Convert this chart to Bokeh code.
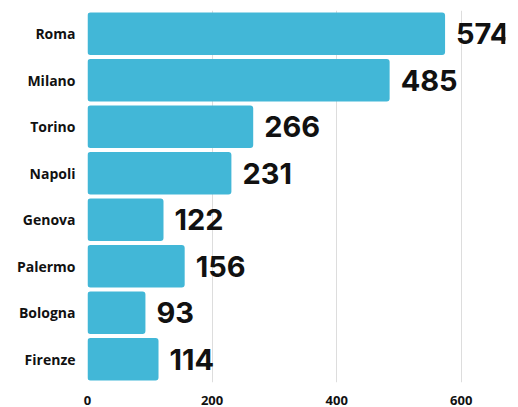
from bokeh.plotting import figure
from bokeh.models import ColumnDataSource, FixedTicker, Range1d, FactorRange
from bokeh.core.properties import value
from bokeh.embed import file_html
from bokeh.resources import INLINE

cities = ["Roma", "Milano", "Torino", "Napoli", "Genova", "Palermo", "Bologna", "Firenze"]
counts = [574, 485, 266, 231, 122, 156, 93, 114]
ticks = [0, 200, 400, 600]

src = ColumnDataSource(dict(city=cities, count=counts, label=[str(c) for c in counts]))

p = figure(width=510, height=407, output_backend="svg", toolbar_location=None,
           y_range=FactorRange(*reversed(cities), range_padding=0),
           x_range=Range1d(0, 671),
           min_border_left=87, min_border_right=5, min_border_top=10, min_border_bottom=20)
p.outline_line_color = None
p.background_fill_color = "white"
p.border_fill_color = "white"

p.hbar(y="city", right="count", left=0, height=0.91, source=src,
       fill_color="#42B7D7", line_color=None, border_radius=3)

p.text(x="count", y="city", text="label", source=src, x_offset=11,
       text_align="left", text_baseline="middle",
       text_font=value("Inter"), text_font_style="bold", text_font_size="29px",
       text_color="#111111")

p.xaxis.ticker = FixedTicker(ticks=ticks)
p.xaxis.axis_line_color = None
p.xaxis.major_tick_line_color = None
p.xaxis.minor_tick_line_color = None
p.xaxis.major_label_standoff = 7
p.xaxis.major_label_text_font = "Open Sans"
p.xaxis.major_label_text_font_style = "bold"
p.xaxis.major_label_text_font_size = "13px"
p.xaxis.major_label_text_color = "#111111"

p.yaxis.axis_line_color = None
p.yaxis.major_tick_line_color = None
p.yaxis.minor_tick_line_color = None
p.yaxis.major_label_standoff = 6
p.yaxis.major_label_text_font = "Open Sans"
p.yaxis.major_label_text_font_style = "bold"
p.yaxis.major_label_text_font_size = "14px"
p.yaxis.major_label_text_color = "#111111"

p.ygrid.grid_line_color = None
p.xgrid.ticker = FixedTicker(ticks=ticks)
p.xgrid.grid_line_color = "#dddddd"
p.xgrid.level = "underlay"

open("out.html", "w").write(file_html(p, INLINE))
